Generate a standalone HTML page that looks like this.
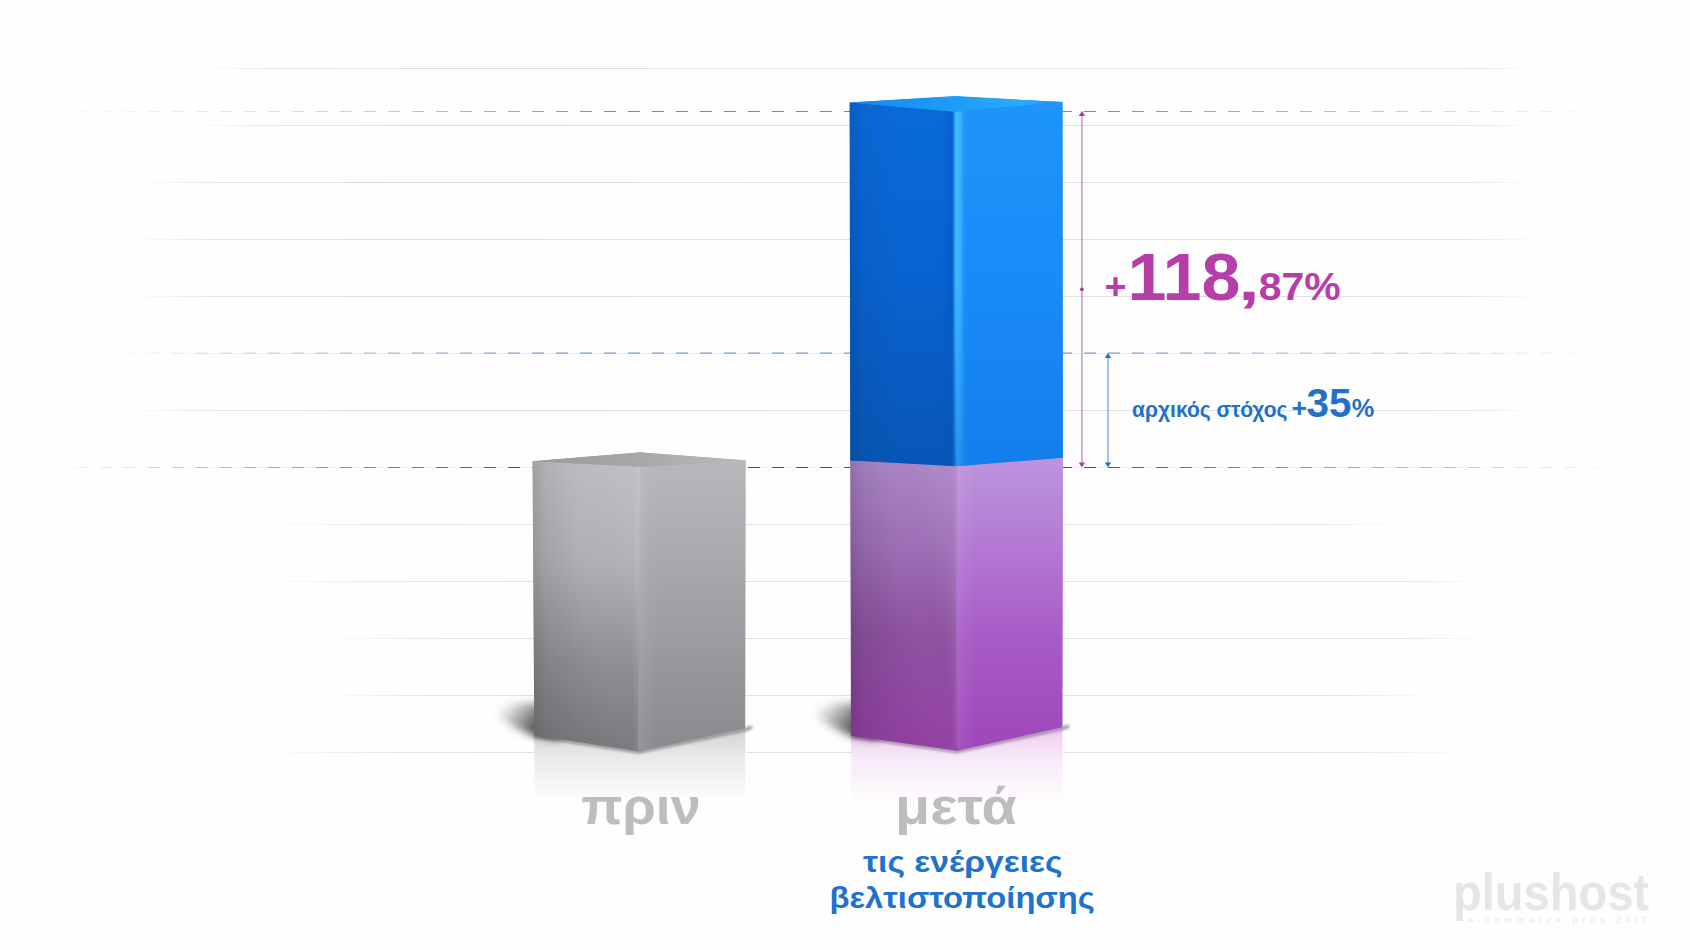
<!DOCTYPE html>
<html lang="el">
<head>
<meta charset="utf-8">
<title>πριν / μετά τις ενέργειες βελτιστοποίησης</title>
<style>
  html, body { margin: 0; padding: 0; background: #fefefe; }
  body { width: 1690px; height: 950px; overflow: hidden; position: relative;
         font-family: "Liberation Sans", sans-serif; }
  svg { position: absolute; left: 0; top: 0; display: block; }
  text { font-family: "Liberation Sans", sans-serif; font-weight: bold; }
</style>
</head>
<body>
<svg width="1690" height="950" viewBox="0 0 1690 950">
  <defs>
    <!-- grid line fades (userSpaceOnUse so they work on zero-height lines) -->
    <linearGradient id="gA" gradientUnits="userSpaceOnUse" x1="190" x2="1540" y1="0" y2="0">
      <stop offset="0" stop-color="#dfdde3" stop-opacity="0"/>
      <stop offset="0.06" stop-color="#dfdde3" stop-opacity="0.7"/>
      <stop offset="0.16" stop-color="#dfdde3" stop-opacity="1"/>
      <stop offset="0.94" stop-color="#dfdde3" stop-opacity="0.9"/>
      <stop offset="1" stop-color="#dfdde3" stop-opacity="0"/>
    </linearGradient>
    <linearGradient id="gB" gradientUnits="userSpaceOnUse" x1="125" x2="1540" y1="0" y2="0">
      <stop offset="0" stop-color="#dfdde3" stop-opacity="0"/>
      <stop offset="0.06" stop-color="#dfdde3" stop-opacity="0.7"/>
      <stop offset="0.16" stop-color="#dfdde3" stop-opacity="1"/>
      <stop offset="0.94" stop-color="#dfdde3" stop-opacity="0.9"/>
      <stop offset="1" stop-color="#dfdde3" stop-opacity="0"/>
    </linearGradient>
    <linearGradient id="gC" gradientUnits="userSpaceOnUse" x1="255" x2="1410" y1="0" y2="0">
      <stop offset="0" stop-color="#e1dfe5" stop-opacity="0"/>
      <stop offset="0.1" stop-color="#e1dfe5" stop-opacity="0.7"/>
      <stop offset="0.22" stop-color="#e1dfe5" stop-opacity="1"/>
      <stop offset="0.9" stop-color="#e1dfe5" stop-opacity="0.9"/>
      <stop offset="1" stop-color="#e1dfe5" stop-opacity="0"/>
    </linearGradient>
    <linearGradient id="gD" gradientUnits="userSpaceOnUse" x1="255" x2="1490" y1="0" y2="0">
      <stop offset="0" stop-color="#e1dfe5" stop-opacity="0"/>
      <stop offset="0.1" stop-color="#e1dfe5" stop-opacity="0.7"/>
      <stop offset="0.22" stop-color="#e1dfe5" stop-opacity="1"/>
      <stop offset="0.92" stop-color="#e1dfe5" stop-opacity="0.9"/>
      <stop offset="1" stop-color="#e1dfe5" stop-opacity="0"/>
    </linearGradient>
    <linearGradient id="gE" gradientUnits="userSpaceOnUse" x1="318" x2="1490" y1="0" y2="0">
      <stop offset="0" stop-color="#e1dfe5" stop-opacity="0"/>
      <stop offset="0.08" stop-color="#e1dfe5" stop-opacity="0.7"/>
      <stop offset="0.2" stop-color="#e1dfe5" stop-opacity="1"/>
      <stop offset="0.92" stop-color="#e1dfe5" stop-opacity="0.9"/>
      <stop offset="1" stop-color="#e1dfe5" stop-opacity="0"/>
    </linearGradient>
    <linearGradient id="gF" gradientUnits="userSpaceOnUse" x1="318" x2="1440" y1="0" y2="0">
      <stop offset="0" stop-color="#e1dfe5" stop-opacity="0"/>
      <stop offset="0.08" stop-color="#e1dfe5" stop-opacity="0.7"/>
      <stop offset="0.2" stop-color="#e1dfe5" stop-opacity="1"/>
      <stop offset="0.9" stop-color="#e1dfe5" stop-opacity="0.9"/>
      <stop offset="1" stop-color="#e1dfe5" stop-opacity="0"/>
    </linearGradient>
    <linearGradient id="gG" gradientUnits="userSpaceOnUse" x1="255" x2="1480" y1="0" y2="0">
      <stop offset="0" stop-color="#e1dfe5" stop-opacity="0"/>
      <stop offset="0.1" stop-color="#e1dfe5" stop-opacity="0.7"/>
      <stop offset="0.22" stop-color="#e1dfe5" stop-opacity="1"/>
      <stop offset="0.88" stop-color="#e1dfe5" stop-opacity="0.9"/>
      <stop offset="1" stop-color="#e1dfe5" stop-opacity="0"/>
    </linearGradient>

    <!-- dashed guide fades -->
    <linearGradient id="dPurple" gradientUnits="userSpaceOnUse" x1="75" x2="1600" y1="0" y2="0">
      <stop offset="0" stop-color="#d8d8d8" stop-opacity="0.15"/>
      <stop offset="0.2" stop-color="#c9b6cc" stop-opacity="0.8"/>
      <stop offset="0.36" stop-color="#b566b6" stop-opacity="1"/>
      <stop offset="0.66" stop-color="#b566b6" stop-opacity="1"/>
      <stop offset="0.85" stop-color="#c48ac6" stop-opacity="0.6"/>
      <stop offset="1" stop-color="#c48ac6" stop-opacity="0"/>
    </linearGradient>
    <linearGradient id="dBlue" gradientUnits="userSpaceOnUse" x1="130" x2="1612" y1="0" y2="0">
      <stop offset="0" stop-color="#d4d4d8" stop-opacity="0.1"/>
      <stop offset="0.1" stop-color="#c4c6cc" stop-opacity="0.8"/>
      <stop offset="0.28" stop-color="#6f9fdc" stop-opacity="1"/>
      <stop offset="0.66" stop-color="#6f9fdc" stop-opacity="1"/>
      <stop offset="0.85" stop-color="#9dbde6" stop-opacity="0.55"/>
      <stop offset="1" stop-color="#9dbde6" stop-opacity="0"/>
    </linearGradient>
    <linearGradient id="dDark" gradientUnits="userSpaceOnUse" x1="78" x2="1626" y1="0" y2="0">
      <stop offset="0" stop-color="#5a5a5e" stop-opacity="0.08"/>
      <stop offset="0.12" stop-color="#5a5a5e" stop-opacity="0.45"/>
      <stop offset="0.28" stop-color="#58565a" stop-opacity="1"/>
      <stop offset="0.66" stop-color="#58565a" stop-opacity="1"/>
      <stop offset="0.85" stop-color="#5a5a5e" stop-opacity="0.4"/>
      <stop offset="1" stop-color="#5a5a5e" stop-opacity="0"/>
    </linearGradient>

    <!-- gray bar -->
    <linearGradient id="grayTop" x1="0" x2="1" y1="0" y2="0">
      <stop offset="0" stop-color="#9a989c"/>
      <stop offset="0.5" stop-color="#a9a7ab"/>
      <stop offset="1" stop-color="#bcbabe"/>
    </linearGradient>
    <linearGradient id="grayL" x1="0" x2="0" y1="0" y2="1">
      <stop offset="0" stop-color="#bebcc0"/>
      <stop offset="0.35" stop-color="#b1afb3"/>
      <stop offset="0.7" stop-color="#908e93"/>
      <stop offset="1" stop-color="#7b797e"/>
    </linearGradient>
    <linearGradient id="grayR" x1="0" x2="0" y1="0" y2="1">
      <stop offset="0" stop-color="#b9b7bb"/>
      <stop offset="0.35" stop-color="#aaa8ac"/>
      <stop offset="0.7" stop-color="#99979b"/>
      <stop offset="1" stop-color="#8b898d"/>
    </linearGradient>
    <linearGradient id="edgeDarkL" x1="0" x2="1" y1="0" y2="0">
      <stop offset="0" stop-color="#000" stop-opacity="0.12"/>
      <stop offset="0.12" stop-color="#000" stop-opacity="0.04"/>
      <stop offset="0.45" stop-color="#000" stop-opacity="0"/>
      <stop offset="1" stop-color="#000" stop-opacity="0"/>
    </linearGradient>

    <linearGradient id="diagL" x1="0" y1="0.85" x2="1" y2="0.35">
      <stop offset="0" stop-color="#000" stop-opacity="0.075"/>
      <stop offset="0.45" stop-color="#000" stop-opacity="0.025"/>
      <stop offset="0.75" stop-color="#fff" stop-opacity="0"/>
      <stop offset="1" stop-color="#fff" stop-opacity="0.05"/>
    </linearGradient>
    <linearGradient id="softEdge" x1="0" x2="1" y1="0" y2="0">
      <stop offset="0" stop-color="#fff" stop-opacity="0"/>
      <stop offset="0.3" stop-color="#fff" stop-opacity="0.085"/>
      <stop offset="0.5" stop-color="#fff" stop-opacity="0.05"/>
      <stop offset="1" stop-color="#fff" stop-opacity="0"/>
    </linearGradient>

    <!-- blue bar -->
    <linearGradient id="blueTop" x1="0" x2="1" y1="0" y2="0">
      <stop offset="0" stop-color="#1486ee"/>
      <stop offset="0.55" stop-color="#20a0fa"/>
      <stop offset="0.8" stop-color="#2caafc"/>
      <stop offset="1" stop-color="#2098f8"/>
    </linearGradient>
    <linearGradient id="blueL" x1="0" x2="0" y1="0" y2="1">
      <stop offset="0" stop-color="#0a6ada"/>
      <stop offset="0.5" stop-color="#0862cf"/>
      <stop offset="1" stop-color="#0856b6"/>
    </linearGradient>
    <linearGradient id="blueR" x1="0" x2="0" y1="0" y2="1">
      <stop offset="0" stop-color="#1f94fc"/>
      <stop offset="0.5" stop-color="#1a8af6"/>
      <stop offset="1" stop-color="#127eec"/>
    </linearGradient>
    <linearGradient id="blueEdgeH" gradientUnits="userSpaceOnUse" x1="942" x2="968" y1="0" y2="0">
      <stop offset="0" stop-color="#0450b8" stop-opacity="0"/>
      <stop offset="0.36" stop-color="#0450b8" stop-opacity="0.35"/>
      <stop offset="0.46" stop-color="#1c88ec" stop-opacity="1"/>
      <stop offset="0.52" stop-color="#40bcff" stop-opacity="1"/>
      <stop offset="0.7" stop-color="#3cb6ff" stop-opacity="1"/>
      <stop offset="0.86" stop-color="#2a9efc" stop-opacity="0.4"/>
      <stop offset="1" stop-color="#2a9cfa" stop-opacity="0"/>
    </linearGradient>
    <linearGradient id="fadeDown" x1="0" x2="0" y1="0" y2="1">
      <stop offset="0" stop-color="#fff" stop-opacity="1"/>
      <stop offset="0.5" stop-color="#fff" stop-opacity="0.9"/>
      <stop offset="0.8" stop-color="#fff" stop-opacity="0.55"/>
      <stop offset="1" stop-color="#fff" stop-opacity="0.35"/>
    </linearGradient>
    <mask id="edgeMask" maskUnits="userSpaceOnUse" x="940" y="100" width="40" height="370">
      <rect x="940" y="100" width="40" height="370" fill="url(#fadeDown)"/>
    </mask>

    <!-- purple bar -->
    <linearGradient id="purL" x1="0" x2="0" y1="0" y2="1">
      <stop offset="0" stop-color="#ab85c5"/>
      <stop offset="0.3" stop-color="#9e6eb6"/>
      <stop offset="0.6" stop-color="#8e52a1"/>
      <stop offset="1" stop-color="#9540a6"/>
    </linearGradient>
    <linearGradient id="purR" x1="0" x2="0" y1="0" y2="1">
      <stop offset="0" stop-color="#bc95dc"/>
      <stop offset="0.3" stop-color="#b47ad4"/>
      <stop offset="0.6" stop-color="#a85cc8"/>
      <stop offset="1" stop-color="#9e46ba"/>
    </linearGradient>

    <!-- mirror images on the floor -->
    <linearGradient id="refGray" gradientUnits="userSpaceOnUse" x1="0" x2="0" y1="730" y2="802">
      <stop offset="0" stop-color="#8a888c" stop-opacity="0.36"/>
      <stop offset="0.38" stop-color="#8a888c" stop-opacity="0.17"/>
      <stop offset="1" stop-color="#8a888c" stop-opacity="0"/>
    </linearGradient>
    <linearGradient id="refPur" gradientUnits="userSpaceOnUse" x1="0" x2="0" y1="730" y2="802">
      <stop offset="0" stop-color="#c45ad2" stop-opacity="0.3"/>
      <stop offset="0.38" stop-color="#c45ad2" stop-opacity="0.13"/>
      <stop offset="1" stop-color="#c45ad2" stop-opacity="0"/>
    </linearGradient>

    <!-- cast shadows -->
    <linearGradient id="shGray" gradientUnits="userSpaceOnUse" x1="503" x2="537" y1="704" y2="733">
      <stop offset="0" stop-color="#000" stop-opacity="0"/>
      <stop offset="0.45" stop-color="#000" stop-opacity="0.3"/>
      <stop offset="1" stop-color="#000" stop-opacity="0.74"/>
    </linearGradient>
    <linearGradient id="shPur" gradientUnits="userSpaceOnUse" x1="821" x2="855" y1="704" y2="733">
      <stop offset="0" stop-color="#000" stop-opacity="0"/>
      <stop offset="0.45" stop-color="#000" stop-opacity="0.3"/>
      <stop offset="1" stop-color="#000" stop-opacity="0.74"/>
    </linearGradient>

    <filter id="blur5" x="-50%" y="-50%" width="200%" height="200%"><feGaussianBlur stdDeviation="4"/></filter>
    <filter id="blur2" x="-50%" y="-50%" width="200%" height="200%"><feGaussianBlur stdDeviation="1.6"/></filter>
    <filter id="blurLogo" x="-5%" y="-20%" width="110%" height="140%"><feGaussianBlur stdDeviation="0.7"/></filter>
    <clipPath id="logoClip"><rect x="1440" y="860" width="250" height="61.5"/></clipPath>
  </defs>

  <rect x="0" y="0" width="1690" height="950" fill="#fefefe"/>

  <!-- SECTION: horizontal grid lines -->
  <g stroke-width="1" fill="none">
    <line x1="190" x2="1540" y1="68.5" y2="68.5" stroke="url(#gA)"/>
    <line x1="190" x2="1540" y1="125.5" y2="125.5" stroke="url(#gA)"/>
    <line x1="125" x2="1540" y1="182.5" y2="182.5" stroke="url(#gB)"/>
    <line x1="125" x2="1540" y1="239.5" y2="239.5" stroke="url(#gB)"/>
    <line x1="125" x2="1540" y1="296.5" y2="296.5" stroke="url(#gB)"/>
    <line x1="125" x2="1540" y1="353.5" y2="353.5" stroke="url(#gB)" opacity="0.6"/>
    <line x1="125" x2="1540" y1="410.5" y2="410.5" stroke="url(#gB)"/>
    <line x1="125" x2="1540" y1="467.5" y2="467.5" stroke="url(#gB)" opacity="0.5"/>
    <line x1="255" x2="1410" y1="524.5" y2="524.5" stroke="url(#gC)"/>
    <line x1="255" x2="1490" y1="581.5" y2="581.5" stroke="url(#gD)"/>
    <line x1="318" x2="1490" y1="638.5" y2="638.5" stroke="url(#gE)"/>
    <line x1="318" x2="1440" y1="695.5" y2="695.5" stroke="url(#gF)"/>
    <line x1="255" x2="534" y1="752.5" y2="752.5" stroke="url(#gG)"/>
    <line x1="746" x2="851" y1="752.5" y2="752.5" stroke="url(#gG)"/>
    <line x1="1063" x2="1480" y1="752.5" y2="752.5" stroke="url(#gG)"/>
  </g>

  <!-- SECTION: dashed guides -->
  <g stroke-width="1" fill="none" stroke-dasharray="12 12">
    <line x1="76" x2="1600" y1="111.5" y2="111.5" stroke="url(#dPurple)"/>
    <line x1="76" x2="1612" y1="353.1" y2="353.1" stroke="url(#dBlue)" stroke-width="1.3"/>
    <line x1="76" x2="1626" y1="467.5" y2="467.5" stroke="url(#dDark)"/>
  </g>

  <!-- SECTION: floor shadows -->
  <g filter="url(#blur5)">
    <polygon points="560,703 560,740 534,736 514,727 497,716 496,707 518,703" fill="url(#shGray)"/>
    <polygon points="878,703 878,740 852,736 832,727 815,716 814,707 836,703" fill="url(#shPur)"/>
  </g>
  <g filter="url(#blur2)" fill="none" stroke="#000" stroke-opacity="0.45" stroke-width="3">
    <polyline points="534,736 638.5,752 746,729.5 752,727"/>
    <polyline points="851,736.5 957,751.5 1063,728.2 1069,726"/>
  </g>

  <!-- SECTION: floor mirror -->
  <polygon points="534.3,735.2 638.5,751.4 745.3,728.5 745.3,802 534.3,802" fill="url(#refGray)"/>
  <polygon points="851,735.7 957,750.8 1062.5,727.2 1062.5,802 851,802" fill="url(#refPur)"/>

  <!-- SECTION: gray bar -->
  <g>
    <polygon points="532.8,461.2 640,452.6 745.3,460.4 745,728.3 638.5,751 534.6,735" fill="#a5a3a7"/>
    <polygon points="532.5,461.2 640,466.7 638.5,751.4 534.3,735.2" fill="url(#grayL)"/>
    <polygon points="532.5,461.2 640,466.7 638.5,751.4 534.3,735.2" fill="url(#edgeDarkL)"/>
    <polygon points="640,466.7 745.6,460.3 745.2,728.5 638.5,751.4" fill="url(#grayR)"/>
    <polygon points="532.5,461.2 640,452.2 745.6,460.3 640,466.7" fill="url(#grayTop)"/>
    <polygon points="532.5,461.2 640,466.7 638.5,751.4 534.3,735.2" fill="url(#diagL)"/>
    <rect x="632" y="467" width="26" height="283" fill="url(#softEdge)"/>
  </g>

  <!-- SECTION: purple base of tall bar -->
  <g>
    <polygon points="850.6,458 1062.6,455 1062.1,727 957,750.4 851.3,735.5" fill="#a45cc0"/>
    <polygon points="850.3,458 956.4,463 957,750.8 851,735.7" fill="url(#purL)"/>
    <polygon points="850.3,458 956.4,463 957,750.8 851,735.7" fill="url(#edgeDarkL)"/>
    <polygon points="956.4,463 1062.9,455 1062.4,727.2 957,750.8" fill="url(#purR)"/>
    <polygon points="850.3,458 956.4,463 957,750.8 851,735.7" fill="url(#diagL)"/>
    <rect x="950" y="466" width="26" height="283" fill="url(#softEdge)"/>
  </g>

  <!-- SECTION: blue growth part of tall bar -->
  <g>
    <polygon points="849.9,102.5 955,96.4 1062.3,102.1 1062.6,457.6 956.4,465.9 850.6,460.3" fill="#1480ea"/>
    <polygon points="849.6,102.4 955,111.7 956.4,466.2 850.3,460.5" fill="url(#blueL)"/>
    <polygon points="849.6,102.4 955,111.7 956.4,466.2 850.3,460.5" fill="url(#edgeDarkL)"/>
    <polygon points="955,111.7 1062.6,102 1062.9,457.7 956.4,466.2" fill="url(#blueR)"/>
    <polygon points="849.6,102.4 955,96 1062.6,102 955,111.7" fill="url(#blueTop)"/>
    <polygon points="942,110.6 955,111.9 970,110.5 971,465 956.4,466.3 943,465.5" fill="url(#blueEdgeH)" mask="url(#edgeMask)"/>
  </g>

  <!-- SECTION: measure arrows -->
  <g>
    <line x1="1081.9" x2="1081.9" y1="115" y2="463" stroke="#c08ec2" stroke-width="1.4"/>
    <polygon points="1081.9,111.1 1085.1,116 1078.7,116" fill="#a93aa9"/>
    <polygon points="1081.9,467.3 1085.1,462.4 1078.7,462.4" fill="#a93aa9"/>
    <circle cx="1081.9" cy="289.3" r="1.9" fill="#a93aa9"/>
    <line x1="1108" x2="1108" y1="357" y2="463" stroke="#84a7d6" stroke-width="1.4"/>
    <polygon points="1108,353 1111.2,357.9 1104.8,357.9" fill="#1f6fcb"/>
    <polygon points="1108,467.3 1111.2,462.4 1104.8,462.4" fill="#1f6fcb"/>
  </g>

  <!-- SECTION: values -->
  <g fill="#b73ea9">
    <text x="1104.5" y="299" font-size="37" textLength="22" lengthAdjust="spacingAndGlyphs">+</text>
    <text x="1127.5" y="300" font-size="66" textLength="113" lengthAdjust="spacingAndGlyphs">118</text>
    <text x="1238.2" y="299.8" font-size="56" textLength="21.4" lengthAdjust="spacingAndGlyphs">,</text>
    <text x="1258.8" y="300" font-size="39" textLength="82" lengthAdjust="spacingAndGlyphs">87%</text>
  </g>
  <g fill="#2271c8">
    <text x="1132" y="417.4" font-size="21.5" textLength="155.5" lengthAdjust="spacingAndGlyphs">αρχικός στόχος</text>
    <text x="1291.5" y="417.4" font-size="25" textLength="15.5" lengthAdjust="spacingAndGlyphs">+</text>
    <text x="1306.5" y="417.4" font-size="41.5" textLength="45" lengthAdjust="spacingAndGlyphs">35</text>
    <text x="1351.7" y="417.4" font-size="25.5" textLength="22.5" lengthAdjust="spacingAndGlyphs">%</text>
  </g>

  <!-- SECTION: axis labels -->
  <g fill="#bebcc0">
    <text x="581.2" y="823.8" font-size="52" textLength="119.6" lengthAdjust="spacingAndGlyphs">πριν</text>
    <text x="895" y="824" font-size="52" textLength="121.8" lengthAdjust="spacingAndGlyphs">μετά</text>
  </g>
  <g fill="#2072cc">
    <text x="863" y="872.3" font-size="30" textLength="199.5" lengthAdjust="spacingAndGlyphs">τις ενέργειες</text>
    <text x="829.5" y="908.3" font-size="30" textLength="265.3" lengthAdjust="spacingAndGlyphs">βελτιστοποίησης</text>
  </g>

  <!-- SECTION: watermark logo -->
  <g filter="url(#blurLogo)">
    <text x="1453" y="909.6" font-size="52.5" fill="#e6e5e8" textLength="196" lengthAdjust="spacingAndGlyphs">plushost</text>
    <text x="1468" y="923" font-size="9.5" fill="#edecef" textLength="179" lengthAdjust="spacing" filter="url(#blurLogo)">e-commerce pros 24/7</text>
  </g>
</svg>
</body>
</html>
